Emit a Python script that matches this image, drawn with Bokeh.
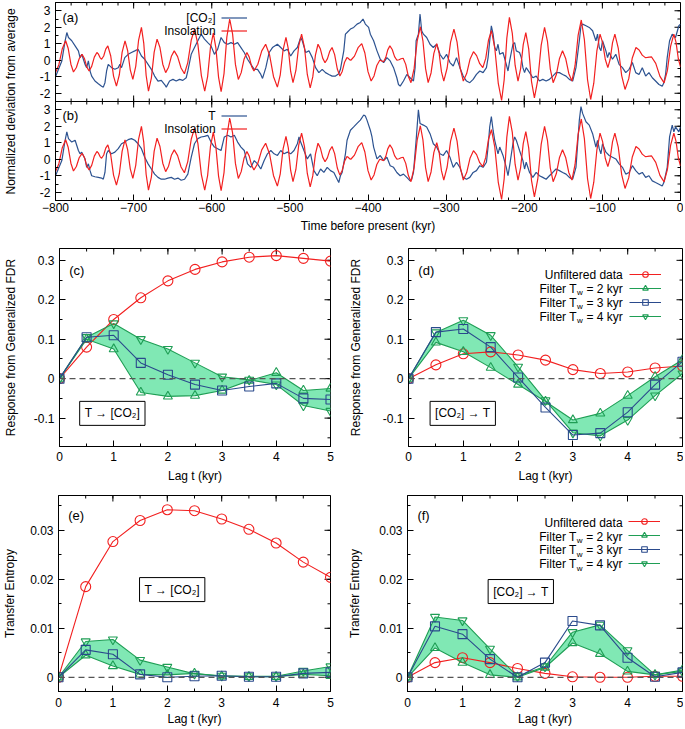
import math
from bokeh.plotting import figure
from bokeh.models import Range1d, LinearAxis, FixedTicker, Span, Label, Legend, LegendItem
from bokeh.layouts import column, row
from bokeh.embed import file_html
from bokeh.resources import INLINE

FONT = "Liberation Sans"
RED = "#f22020"
BLUE = "#2a4a8c"
GREEN = "#1f9e55"
FILL = "#80e8b4"
TS_BLUE = "#2c5290"

# ---------------- time-series data (panels a, b) ----------------
ins_t = [-800, -795.7, -791.3, -787, -783.7, -780.3, -777, -773.3, -769.7, -766, -763.0, -760.0,
         -757, -753.7, -750.3, -747, -745.0, -743.0, -741, -738.3, -735.7, -733, -729.3, -725.7,
         -722, -718.3, -714.7, -711, -707.7, -704.3, -701, -697.3, -693.7, -690, -687.0, -684.0,
         -681, -677.3, -673.7, -670, -666.3, -662.7, -659, -655.3, -651.7, -648, -643.7, -639.3,
         -635, -630.7, -626.3, -622, -617.7, -613.3, -609, -605.3, -601.7, -598, -594.7, -591.3,
         -588, -584.3, -580.7, -577, -573.3, -569.7, -566, -562.3, -558.7, -555, -552.0, -549.0,
         -546, -541.0, -536.0, -531, -526.0, -521.0, -516, -512.3, -508.7, -505, -502.0, -499.0,
         -496, -492.3, -488.7, -485, -481.3, -477.7, -474, -470.7, -467.3, -464, -461.0, -458.0,
         -455, -452.0, -449.0, -446, -442.7, -439.3, -436, -433.0, -430.0, -427, -425.3, -423.7,
         -422, -417.3, -412.7, -408, -404.0, -400.0, -396, -392.3, -388.7, -385, -383.3, -381.7,
         -380, -377.3, -374.7, -372, -369.0, -366.0, -363, -360.3, -357.7, -355, -351.7, -348.3,
         -345, -341.0, -337.0, -333, -329.7, -326.3, -323, -319.3, -315.7, -312, -309.0, -306.0,
         -303, -298.7, -294.3, -290, -286.0, -282.0, -278, -273.7, -269.3, -265, -261.0, -257.0,
         -253, -249.3, -245.7, -242, -237.7, -233.3, -229, -225.7, -222.3, -219, -215.3, -211.7,
         -208, -204.7, -201.3, -198, -194.3, -190.7, -187, -182.7, -178.3, -174, -170.3, -166.7,
         -163, -159.0, -155.0, -151, -147.0, -143.0, -139, -135.0, -131.0, -127, -123.0, -119.0,
         -115, -111.0, -107.0, -103, -99.7, -96.3, -93, -90.0, -87.0, -84, -79.7, -75.3,
         -71, -66.3, -61.7, -57, -53.0, -49.0, -45, -42.3, -39.7, -37, -31.7, -26.3,
         -21, -16.8, -12.7, -8.5, -5.7, -2.8, 0]
ins_v = [-0.75, -0.27, 0.70, 1.18, 0.71, -0.24, -0.71, -0.44, 0.09, 0.36, 0.11, -0.40,
         -0.65, -0.37, 0.19, 0.47, 0.37, 0.16, 0.06, 0.26, 0.67, 0.87, 0.26, -0.96,
         -1.57, -0.88, 0.49, 1.18, 0.59, -0.58, -1.16, -0.37, 1.20, 1.99, 1.02, -0.91,
         -1.87, -1.08, 0.49, 1.28, 0.77, -0.24, -0.75, -0.42, 0.24, 0.57, 0.22, -0.47,
         -0.82, -0.14, 1.21, 1.89, 0.95, -0.93, -1.87, -0.99, 0.76, 1.64, 0.75, -1.02,
         -1.91, -0.81, 1.40, 2.50, 1.58, -0.25, -1.16, -0.75, 0.06, 0.47, 0.19, -0.37,
         -0.65, -0.24, 0.57, 0.97, 0.32, -0.98, -1.63, -0.88, 0.63, 1.38, 0.69, -0.68,
         -1.36, -0.62, 0.85, 1.58, 0.77, -0.86, -1.67, -1.01, 0.31, 0.97, 0.69, 0.13,
         -0.15, 0.08, 0.54, 0.77, 0.34, -0.53, -0.96, -0.68, -0.12, 0.16, 0.12, 0.04,
         0.00, 0.25, 0.76, 1.01, 0.44, -0.69, -1.26, -0.95, -0.32, 0.00, -0.02, -0.06,
         -0.08, 0.16, 0.63, 0.87, 0.65, 0.22, 0.00, 0.03, 0.09, 0.12, -0.25, -0.99,
         -1.36, -0.51, 1.18, 2.03, 1.18, -0.51, -1.36, -0.77, 0.42, 1.01, 0.44, -0.69,
         -1.26, -0.47, 1.10, 1.89, 1.10, -0.47, -1.26, -0.81, 0.08, 0.52, 0.28, -0.21,
         -0.45, 0.11, 1.23, 1.79, 0.73, -1.38, -2.44, -1.18, 1.34, 2.60, 1.63, -0.30,
         -1.26, -0.52, 0.95, 1.68, 0.69, -1.29, -2.28, -1.21, 0.92, 1.99, 1.15, -0.52,
         -1.36, -0.88, 0.09, 0.57, 0.11, -0.80, -1.26, -0.33, 1.52, 2.44, 1.23, -1.18,
         -2.38, -1.39, 0.59, 1.58, 1.07, 0.06, -0.45, 0.06, 1.07, 1.58, 0.74, -0.93,
         -1.77, -1.13, 0.14, 0.77, 0.62, 0.31, 0.16, 0.17, 0.19, 0.20, -0.19, -0.98,
         -1.37, -0.63, 0.84, 1.58, 1.08, 0.09, -0.40]

co2_t = [-800.0, -791.9, -787.7, -785.5, -783.4, -779.2, -774.9, -770.7, -768.6, -766.4,
         -764.3, -762.2, -760.1, -757.9, -755.8, -753.7, -749.5, -745.2, -741.0, -738.8,
         -736.7, -734.6, -732.5, -728.2, -724.0, -719.7, -717.6, -715.5, -711.3, -707.0,
         -702.8, -698.5, -694.3, -690.0, -685.8, -681.5, -677.3, -673.1, -668.8, -664.6,
         -660.3, -658.2, -654.0, -649.7, -645.5, -641.2, -637.0, -632.7, -630.6, -626.3,
         -622.1, -617.8, -613.6, -609.3, -605.1, -600.9, -596.6, -592.4, -588.1, -583.9,
         -579.6, -575.4, -571.1, -566.9, -562.6, -558.4, -554.2, -549.9, -545.6, -541.4,
         -537.2, -535.0, -530.8, -526.5, -522.3, -516.0, -511.7, -507.4, -503.2, -499.0,
         -494.7, -490.4, -486.2, -484.1, -479.8, -475.6, -471.3, -467.1, -462.9, -458.6,
         -454.4, -450.1, -445.9, -441.6, -437.4, -435.3, -431.0, -428.9, -426.8, -422.5,
         -418.3, -414.0, -409.8, -406.4, -403.4, -399.2, -397.0, -392.8, -388.5, -384.3,
         -380.0, -375.8, -371.6, -367.3, -363.1, -361.0, -358.8, -354.6, -350.3, -346.1,
         -341.8, -339.7, -338.4, -335.5, -333.4, -331.3, -329.1, -324.9, -320.6, -316.4,
         -312.1, -307.9, -303.6, -299.4, -295.1, -290.9, -286.7, -282.4, -278.2, -273.9,
         -269.7, -265.4, -261.2, -256.9, -252.7, -248.4, -246.3, -244.2, -242.1, -239.9,
         -237.8, -235.7, -233.6, -231.4, -227.2, -223.0, -220.8, -218.7, -214.5, -212.3,
         -210.2, -206.0, -203.8, -201.7, -199.6, -197.5, -193.2, -189.0, -184.7, -180.5,
         -176.3, -172.0, -167.8, -163.5, -159.3, -155.0, -150.8, -146.5, -142.3, -138.0,
         -133.8, -129.5, -127.4, -125.3, -121.0, -116.8, -112.5, -108.3, -106.2, -104.0,
         -101.9, -99.8, -95.5, -93.4, -91.3, -87.1, -82.8, -78.6, -74.3, -70.1,
         -65.8, -61.6, -57.3, -53.1, -48.9, -44.6, -40.4, -36.1, -31.9, -27.6,
         -23.4, -21.3, -19.1, -17.0, -14.0, -10.6, -6.4, -2.1, 0.0]
co2_v = [-1.00, -0.04, 1.18, 1.68, 1.38, 1.18, 0.87, 0.57, 0.16, 0.36,
         0.06, -0.25, -0.45, -0.04, -0.65, -0.96, -1.26, -1.42, -1.57, -1.63,
         -1.36, -0.65, -0.25, -0.45, -0.55, -0.45, -0.25, -0.45, 0.16, 0.36,
         0.47, 0.57, 0.67, 0.26, 0.06, -0.25, -0.55, -0.96, -1.26, -1.22,
         -1.47, -1.63, -1.26, -1.16, -1.26, -1.16, -1.22, -1.06, -0.65, 0.36,
         0.77, 1.18, 1.58, 1.28, 1.07, 0.87, 0.36, 0.67, 1.38, 1.07,
         0.97, 1.07, 0.97, 1.07, 0.77, 0.47, 0.06, -0.25, -0.55, -0.55,
         -0.86, -1.10, -0.45, 0.47, 0.77, 0.97, 0.77, 0.57, 0.67, 0.26,
         0.57, 0.77, 1.38, 1.18, 0.47, 0.57, 0.16, -0.45, -0.75, -0.55,
         -0.75, -0.86, -0.96, -0.96, -0.82, -0.55, 0.57, 1.58, 1.68, 1.89,
         1.99, 2.19, 2.29, 2.50, 2.19, 1.99, 1.58, 1.18, 0.57, 0.06,
         -0.14, 0.16, -0.04, -0.45, -1.06, -1.47, -1.57, -1.26, -0.86, -1.06,
         -1.26, -0.45, 1.18, 1.58, 2.80, 1.79, 1.58, 1.38, 0.97, 0.77,
         0.97, 0.36, 0.06, 0.36, -0.14, -0.35, 0.16, -0.45, -0.96, -1.26,
         -1.36, -1.16, -0.86, -0.65, -0.75, -0.45, 0.16, 1.18, 2.09, 1.58,
         0.77, 0.57, 0.97, 0.36, 0.47, -0.25, -0.65, -0.04, 0.97, 1.07,
         0.57, 0.47, 0.16, -0.45, -0.75, -0.45, -0.75, -1.06, -0.96, -1.26,
         -1.16, -1.26, -1.16, -0.96, -0.75, -0.75, -0.86, -0.96, -1.16, -1.26,
         -0.45, 1.18, 2.09, 2.19, 2.09, 1.99, 1.79, 1.18, 1.58, 0.77,
         0.57, 1.18, 0.57, 0.16, 0.47, 0.06, 0.36, -0.25, -0.45, -0.75,
         -0.55, -0.14, -0.75, -0.86, -0.45, -0.96, -0.75, -1.06, -1.26, -1.47,
         -1.57, -1.36, -0.86, 0.16, 1.18, 1.58, 1.38, 2.09, 2.19]

temp_t = [-800.0, -791.9, -787.7, -785.5, -783.4, -779.2, -774.9, -770.7, -768.6, -766.4,
          -762.2, -760.1, -757.9, -755.8, -753.7, -749.5, -745.2, -741.0, -738.8, -736.7,
          -734.6, -732.5, -728.2, -724.0, -719.7, -715.5, -711.3, -707.0, -702.8, -698.5,
          -694.3, -690.0, -685.8, -681.5, -677.3, -673.1, -668.8, -664.6, -660.3, -656.1,
          -651.8, -647.6, -643.3, -639.1, -634.8, -630.6, -626.3, -622.1, -617.8, -613.6,
          -609.3, -605.1, -600.9, -596.6, -592.4, -588.1, -583.9, -579.6, -575.4, -571.1,
          -566.9, -562.6, -558.4, -554.2, -549.9, -545.6, -541.4, -537.2, -532.9, -528.7,
          -524.4, -520.2, -515.9, -511.7, -507.4, -503.2, -499.0, -494.7, -490.4, -488.3,
          -486.2, -482.0, -477.7, -473.5, -469.2, -465.0, -460.7, -456.5, -452.2, -448.0,
          -443.7, -439.5, -437.4, -435.3, -433.1, -428.9, -426.8, -422.5, -418.3, -414.0,
          -409.8, -405.5, -403.4, -401.3, -397.0, -394.9, -392.8, -388.5, -384.3, -380.0,
          -375.8, -371.6, -367.3, -363.1, -358.8, -354.6, -350.3, -346.1, -344.0, -341.8,
          -338.4, -335.5, -333.4, -329.1, -324.9, -320.6, -316.4, -312.1, -307.9, -303.6,
          -299.4, -295.1, -290.9, -286.7, -282.4, -278.2, -273.9, -269.7, -265.4, -261.2,
          -256.9, -252.7, -248.4, -246.3, -244.2, -242.1, -239.9, -237.8, -235.7, -233.6,
          -231.4, -227.2, -223.0, -220.8, -218.7, -214.5, -212.3, -210.2, -208.1, -206.0,
          -201.7, -199.6, -197.5, -193.2, -189.0, -184.7, -180.5, -176.3, -172.0, -167.8,
          -163.5, -159.3, -155.0, -150.8, -146.5, -142.3, -138.0, -133.8, -129.5, -127.4,
          -125.3, -121.0, -116.8, -112.5, -108.3, -106.2, -104.0, -101.9, -99.8, -95.5,
          -91.3, -87.1, -82.8, -78.6, -74.3, -70.1, -65.8, -61.6, -57.3, -53.1,
          -48.9, -44.6, -40.4, -36.1, -31.9, -27.6, -23.4, -21.3, -17.0, -14.0,
          -10.6, -8.5, -6.4, -2.1, 0.0]
temp_v = [-1.00, -0.08, 1.15, 1.66, 1.25, 1.04, 1.15, 0.53, 0.33, 0.43,
          0.02, -0.49, -0.28, -0.69, -1.00, -1.06, -1.10, -1.14, -1.21, -0.80,
          0.33, 0.53, 0.33, 0.43, 0.64, 0.94, 1.04, 1.19, 1.25, 1.15,
          0.94, 0.64, 0.12, -0.28, -0.59, -0.90, -1.10, -1.21, -1.21, -1.14,
          -1.10, -1.21, -1.14, -1.27, -1.21, -0.90, 0.12, 0.94, 1.25, 1.35,
          1.39, 1.45, 1.04, 0.74, 0.64, 0.53, 1.35, 1.45, 1.35, 1.45,
          1.04, 0.74, 0.53, -0.28, -0.49, -0.08, -0.28, -0.59, -0.08, 0.33,
          0.53, 0.33, 0.23, 0.53, 0.33, 0.43, 0.33, 0.53, 0.94, 1.35,
          1.04, 0.53, 0.02, 0.33, -0.69, -1.00, -0.59, -0.80, -0.49, -0.69,
          -0.80, -1.21, -1.41, -1.00, -0.80, 0.33, 1.15, 1.76, 1.96, 2.17,
          2.37, 2.68, 2.62, 2.37, 1.76, 1.35, 0.74, 0.02, 0.23, -0.08,
          0.12, -0.39, -0.49, -0.80, -1.00, -0.90, -1.10, -1.31, -1.21, -0.80,
          1.15, 2.99, 2.17, 2.07, 1.96, 1.55, 0.94, 0.74, 0.33, 0.23,
          0.53, 0.12, -0.49, -0.18, -0.49, -1.10, -1.21, -1.10, -0.80, -0.69,
          -0.39, -0.49, -0.18, 0.74, 1.97, 2.58, 1.76, 1.15, 0.74, 0.33,
          0.74, 0.23, -0.49, -1.00, -0.39, 0.94, 1.35, 1.15, 0.84, 0.53,
          -0.08, -0.59, -0.18, -0.80, -1.10, -0.80, -1.00, -1.10, -1.21, -1.00,
          -0.80, -0.59, -0.69, -0.80, -0.90, -1.10, -1.21, -0.49, 2.37, 3.19,
          2.78, 2.27, 2.07, 1.55, 0.74, 1.15, 0.64, 0.33, 0.94, 0.43,
          0.23, 0.12, 0.02, -0.28, -0.49, -0.90, -0.80, -0.39, -0.69, -0.90,
          -0.80, -1.10, -1.00, -1.31, -1.41, -1.51, -1.62, -1.41, -0.49, 1.35,
          2.07, 1.66, 1.96, 1.66, 1.96]

# ---------------- lag-response data (panels c-f) ----------------
lag = [0, 0.5, 1, 1.5, 2, 2.5, 3, 3.5, 4, 4.5, 5]

c_unf = [0, 0.080, 0.150, 0.205, 0.248, 0.277, 0.296, 0.308, 0.312, 0.305, 0.298]
c_tw2 = [0, 0.100, 0.075, -0.035, -0.045, -0.043, -0.030, -0.005, 0.015, -0.030, -0.025]
c_tw3 = [0, 0.105, 0.110, 0.040, 0.010, -0.015, -0.030, -0.020, -0.012, -0.050, -0.053]
c_tw4 = [0, 0.105, 0.140, 0.100, 0.075, 0.040, 0.005, -0.003, -0.015, -0.068, -0.082]

d_unf = [0, 0.035, 0.063, 0.068, 0.060, 0.047, 0.023, 0.013, 0.017, 0.027, 0.032]
d_tw2 = [0, 0.092, 0.068, 0.028, -0.015, -0.058, -0.105, -0.088, -0.043, 0.005, 0.048]
d_tw3 = [0, 0.118, 0.126, 0.080, 0.003, -0.073, -0.143, -0.138, -0.085, -0.015, 0.043]
d_tw4 = [0, 0.117, 0.148, 0.110, 0.030, -0.055, -0.137, -0.145, -0.105, -0.043, 0.013]

e_unf = [0, 0.0185, 0.0277, 0.0320, 0.0342, 0.0340, 0.0323, 0.0302, 0.0274, 0.0235, 0.0204]
e_tw2 = [0, 0.0045, 0.0023, 0.0006, 0.0005, 0.0008, 0.0002, 0.0001, 0.0001, 0.0006, 0.0003]
e_tw3 = [0, 0.0056, 0.0047, 0.0006, 0.0000, 0.0002, 0.0003, 0.0001, 0.0001, 0.0008, 0.0010]
e_tw4 = [0, 0.0073, 0.0077, 0.0035, 0.0021, 0.0007, 0.0003, 0.0002, 0.0002, 0.0013, 0.0022]

f_unf = [0, 0.0030, 0.0040, 0.0030, 0.0018, 0.0008, 0.0001, 0.0000, 0.0000, 0.0002, 0.0002]
f_tw2 = [0, 0.0060, 0.0030, 0.0005, 0.0000, 0.0020, 0.0070, 0.0048, 0.0012, 0.0005, 0.0015]
f_tw3 = [0, 0.0104, 0.0088, 0.0037, 0.0000, 0.0030, 0.0115, 0.0106, 0.0040, 0.0001, 0.0010]
f_tw4 = [0, 0.0123, 0.0116, 0.0058, 0.0002, 0.0022, 0.0092, 0.0107, 0.0055, 0.0005, 0.0012]

# tick values and labels
time_ticks = [-800, -700, -600, -500, -400, -300, -200, -100, 0]
ab_ticks = [-2, -1, 0, 1, 2, 3, 4, 5, 6, 7, 8, 9]
ab_labels = ["-2", "-1", "0", "1", "2", "3", "-2", "-1", "0", "1", "2", "3"]
lag_ticks = [0, 1, 2, 3, 4, 5]
fdr_ticks = [-0.1, 0.0, 0.1, 0.2, 0.3]
fdr_labels = ["-0.1", "0", "0.1", "0.2", "0.3"]
te_ticks = [0.0, 0.01, 0.02, 0.03]
te_labels = ["0", "0.01", "0.02", "0.03"]
legend_names = ["Unfiltered data", "2", "3", "4"]

FS = "12px"


def style_axis(ax):
    ax.axis_line_color = "black"
    ax.major_tick_line_color = "black"
    ax.minor_tick_line_color = "black"
    ax.major_tick_in = 6
    ax.major_tick_out = 0
    ax.minor_tick_in = 3
    ax.minor_tick_out = 0
    ax.major_label_text_font = FONT
    ax.major_label_text_color = "black"
    ax.major_label_text_font_size = FS
    ax.axis_label_text_font = FONT
    ax.axis_label_text_font_size = FS
    ax.axis_label_text_font_style = "normal"
    ax.axis_label_text_color = "black"


def mirror_ticks(p, xticker, yticker, x_end, y_end):
    # tick marks on the top and right frame edges (pointing inwards)
    for vals, ln in ((xticker.minor_ticks, 3), (xticker.ticks, 6)):
        p.ray(x=list(vals), y=[y_end] * len(vals), length=ln, angle=-math.pi / 2,
              length_units="screen", line_color="black", line_width=1)
    for vals, ln in ((yticker.minor_ticks, 3), (yticker.ticks, 6)):
        p.ray(x=[x_end] * len(vals), y=list(vals), length=ln, angle=math.pi,
              length_units="screen", line_color="black", line_width=1)


def make_fig(width, height, x_range, y_range, xticker, yticker, xlabel, ylabel,
             bl, br, bt, bb, ylabels=None, ylab_standoff=8, xlab_standoff=4, xtick_standoff=5):
    p = figure(width=width, height=height, x_range=x_range, y_range=y_range,
               output_backend="svg", toolbar_location=None,
               x_axis_location=None, y_axis_location=None,
               min_border_left=bl, min_border_right=br,
               min_border_top=bt, min_border_bottom=bb)
    p.xgrid.grid_line_color = None
    p.ygrid.grid_line_color = None
    p.outline_line_color = "black"
    p.outline_line_alpha = 1.0
    p.background_fill_color = "white"
    p.border_fill_color = "white"
    xb = LinearAxis(ticker=xticker, axis_label=xlabel)
    style_axis(xb)
    xb.major_label_standoff = xtick_standoff
    xb.axis_label_standoff = xlab_standoff
    p.add_layout(xb, "below")
    yl = LinearAxis(ticker=yticker, axis_label=ylabel)
    style_axis(yl)
    yl.major_label_standoff = 5
    yl.axis_label_standoff = ylab_standoff
    if ylabels is not None:
        yl.major_label_overrides = dict(zip(yticker.ticks, ylabels))
    p.add_layout(yl, "left")
    mirror_ticks(p, xticker, yticker, x_range.end, y_range.end)
    return p


def txt(p, x, y, text, size=FS, align="left", **kw):
    lab = Label(x=x, y=y, text=text, text_font=FONT, text_font_size=size,
                text_align=align, text_baseline="middle", text_color="black", **kw)
    p.add_layout(lab)
    return lab


def blank_legend(p, groups, loc, gw, gh):
    items = [LegendItem(label=" ", renderers=list(g)) for g in groups]
    leg = Legend(items=items, location=loc, background_fill_alpha=0, border_line_alpha=0,
                 padding=0, margin=0, spacing=0, glyph_width=gw, glyph_height=gh,
                 label_height=gh, label_standoff=0, label_width=1,
                 label_text_font_size="1px", label_text_color=None)
    p.add_layout(leg)


# ---------------- panels (a) + (b): one frame, two stacked y ranges ----------------
t_ticker = FixedTicker(ticks=time_ticks, minor_ticks=list(range(-800, 1, 20)))
ab_ticker = FixedTicker(ticks=ab_ticks, minor_ticks=[k / 2 for k in range(-5, 20)])

pab = make_fig(683, 236, Range1d(-800, 0), Range1d(-2.5, 9.5), t_ticker, ab_ticker,
               "Time before present (kyr)", "Normalized deviation from average",
               52, 3, 2, 36, ylabels=ab_labels, ylab_standoff=19, xlab_standoff=4,
               xtick_standoff=2)
pab.extra_y_ranges = {"a": Range1d(-8.5, 3.5)}
pab.add_layout(Span(location=3.5, dimension="width", line_color="black", line_width=1))
# tick marks along the border shared by panels (a) and (b)
for vals, ln in ((t_ticker.minor_ticks, 3), (t_ticker.ticks, 6)):
    for ang in (math.pi / 2, -math.pi / 2):
        pab.ray(x=list(vals), y=[3.5] * len(vals), length=ln, angle=ang,
                length_units="screen", line_color="black", line_width=1)

r_co2 = pab.line(co2_t, co2_v, line_color=TS_BLUE, line_width=1.2, y_range_name="a")
r_ins_a = pab.line(ins_t, ins_v, line_color=RED, line_width=1.2, y_range_name="a")
r_tmp = pab.line(temp_t, temp_v, line_color=TS_BLUE, line_width=1.2)
r_ins_b = pab.line(ins_t, ins_v, line_color=RED, line_width=1.2)

txt(pab, -791, 2.6, "(a)", size="13px", y_range_name="a")
txt(pab, -791, 2.65, "(b)", size="13px")
txt(pab, -595, 2.59, "[CO₂]", align="right", y_range_name="a")
txt(pab, -595, 1.80, "Insolation", align="right", y_range_name="a")
txt(pab, -595, 2.65, "T", align="right")
txt(pab, -595, 1.86, "Insolation", align="right")
blank_legend(pab, [[r_co2], [r_ins_a]], (166, 163), 26, 13)
blank_legend(pab, [[r_tmp], [r_ins_b]], (166, 65), 26, 13)


# ---------------- lag panels ----------------
def lag_panel(p, unf, f2, f3, f4):
    p.varea(x=lag, y1=f2, y2=f4, fill_color=FILL, fill_alpha=1.0)
    p.add_layout(Span(location=0, dimension="width", line_color="#555555",
                      line_dash="6 4", line_width=1.3))
    g = []
    l1 = p.line(lag, unf, line_color=RED, line_width=1.1)
    m1 = p.scatter(lag, unf, marker="circle", size=10, line_color=RED, fill_alpha=0, line_width=1.1)
    g.append((l1, m1))
    l2 = p.line(lag, f2, line_color=GREEN, line_width=1.1)
    m2 = p.scatter(lag, f2, marker="triangle", size=9, line_color=GREEN, fill_alpha=0, line_width=1.1)
    g.append((l2, m2))
    l4 = p.line(lag, f4, line_color=GREEN, line_width=1.1)
    m4 = p.scatter(lag, f4, marker="inverted_triangle", size=9, line_color=GREEN, fill_alpha=0, line_width=1.1)
    l3 = p.line(lag, f3, line_color=BLUE, line_width=1.1)
    m3 = p.scatter(lag, f3, marker="square", size=9, line_color=BLUE, fill_alpha=0, line_width=1.1)
    g.append((l3, m3))
    g.append((l4, m4))
    return g


def lag_legend(p, groups, xr, ys, loc):
    txt(p, xr, ys[0], legend_names[0], align="right")
    for i in range(1, 4):
        txt(p, xr, ys[i], "\u00a0= " + legend_names[i] + " kyr", align="right")
        txt(p, xr, ys[i], "w", size="8px", align="right", x_offset=-40, y_offset=-4)
        txt(p, xr, ys[i], "Filter T", align="right", x_offset=-46)
    blank_legend(p, groups, loc, 32, 14)


lag_ticker = FixedTicker(ticks=lag_ticks, minor_ticks=[k / 2 for k in range(0, 11)])
fdr_ticker = FixedTicker(ticks=fdr_ticks, minor_ticks=[k / 20 for k in range(-3, 7)])
te_ticker = FixedTicker(ticks=te_ticks, minor_ticks=[k / 200 for k in range(0, 8)])

pc = make_fig(345, 249, Range1d(0, 5), Range1d(-0.172, 0.33), lag_ticker, fdr_ticker,
              "Lag t (kyr)", "Response from Generalized FDR", 53, 15, 12, 39,
              ylabels=fdr_labels, ylab_standoff=13, xlab_standoff=5, xtick_standoff=5)
lag_panel(pc, c_unf, c_tw2, c_tw3, c_tw4)
txt(pc, 0.18, 0.275, "(c)", size="13px")
txt(pc, 0.975, -0.088, "T → [CO₂]", align="center", border_line_color="black",
    background_fill_color="white", padding=5)

pd = make_fig(338, 249, Range1d(0, 5), Range1d(-0.172, 0.33), lag_ticker, fdr_ticker,
              "Lag t (kyr)", "Response from Generalized FDR", 61, 1, 12, 39,
              ylabels=fdr_labels, ylab_standoff=17, xlab_standoff=5, xtick_standoff=5)
gd = lag_panel(pd, d_unf, d_tw2, d_tw3, d_tw4)
txt(pd, 0.18, 0.275, "(d)", size="13px")
txt(pd, 0.99, -0.088, "[CO₂] → T", align="center", border_line_color="black",
    background_fill_color="white", padding=5)
lag_legend(pd, gd, 3.91, [0.2633, 0.2278, 0.1923, 0.1568], (221, 123))

pe = make_fig(345, 243, Range1d(0, 5), Range1d(-0.0029, 0.0371), lag_ticker, te_ticker,
              "Lag t (kyr)", "Transfer Entropy", 53, 15, 10, 36, ylabels=te_labels,
              ylab_standoff=10, xlab_standoff=2, xtick_standoff=6)
lag_panel(pe, e_unf, e_tw2, e_tw3, e_tw4)
txt(pe, 0.18, 0.033, "(e)", size="13px")
txt(pe, 2.09, 0.0179, "T → [CO₂]", align="center", border_line_color="black",
    background_fill_color="white", padding=5)

pf = make_fig(338, 243, Range1d(0, 5), Range1d(-0.0029, 0.0371), lag_ticker, te_ticker,
              "Lag t (kyr)", "Transfer Entropy", 61, 1, 10, 36, ylabels=te_labels,
              ylab_standoff=14, xlab_standoff=2, xtick_standoff=6)
gf = lag_panel(pf, f_unf, f_tw2, f_tw3, f_tw4)
txt(pf, 0.18, 0.033, "(f)", size="13px")
txt(pf, 2.06, 0.0175, "[CO₂] → T", align="center", border_line_color="black",
    background_fill_color="white", padding=5)
lag_legend(pf, gf, 3.91, [0.03156, 0.02872, 0.02588, 0.02303], (221, 121))

layout = column(pab, row(pc, pd), row(pe, pf))

with open("out.html", "w") as fh:
    fh.write(file_html(layout, INLINE))
